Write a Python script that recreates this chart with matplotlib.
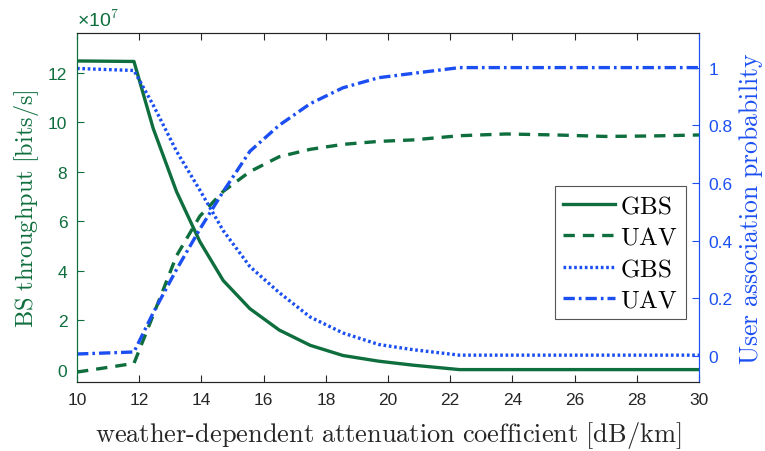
import matplotlib.pyplot as plt
import matplotlib as mpl

mpl.rcParams['mathtext.fontset'] = 'cm'
mpl.rcParams['font.family'] = ['Liberation Sans', 'DejaVu Sans']

# attenuation coefficient [dB/km]
x = [10, 11.83, 12.45, 13.2, 13.95, 14.7, 15.56, 16.5, 17.5, 18.55,
     19.7, 20.8, 22.3, 23.8, 25.4, 27.0, 28.5, 30]

# BS throughput, in units of 1e7 bits/s
thr_gbs = [12.47, 12.45, 9.74, 7.19, 5.17, 3.6, 2.46, 1.6, 0.98, 0.57,
           0.34, 0.18, 0.0, 0.0, 0.0, 0.0, 0.0, 0.0]
thr_uav = [-0.1, 0.25, 2.2, 4.6, 6.2, 7.2, 8.0, 8.6, 8.9, 9.1,
           9.22, 9.28, 9.45, 9.52, 9.48, 9.42, 9.44, 9.48]

# user association probability
p_gbs = [0.997, 0.99, 0.87, 0.71, 0.575, 0.435, 0.31, 0.22, 0.135, 0.08,
         0.04, 0.022, 0.003, 0.003, 0.003, 0.003, 0.003, 0.003]
p_uav = [0.007, 0.014, 0.15, 0.30, 0.44, 0.57, 0.71, 0.80, 0.875, 0.93,
         0.965, 0.98, 1.0, 1.0, 1.0, 1.0, 1.0, 1.0]

green = '#0e6e3d'
blue = '#1c4ff2'
dark = '#262626'

fig = plt.figure(figsize=(7.65, 4.52), dpi=100)
ax = fig.add_axes([0.1007, 0.1527, 0.8130, 0.7721])
ax2 = ax.twinx()

l1, = ax.plot(x, thr_gbs, color=green, lw=2.4, ls='-')
l2, = ax.plot(x, thr_uav, color=green, lw=2.4, ls=(0, (3.4, 2.4)))
l3, = ax2.plot(x, p_gbs, color=blue, lw=2.4, ls=(0, (0.8, 0.8)))
l4, = ax2.plot(x, p_uav, color=blue, lw=2.4, ls=(0, (3.4, 1.2, 0.8, 1.2)))

ax.set_xlim(10, 30)
ax.set_ylim(-0.5, 13.6)
ax2.set_ylim(-0.09, 1.12)
ax.set_xticks(range(10, 31, 2))
ax.set_yticks(range(0, 13, 2))
ax2.set_yticks([0, 0.2, 0.4, 0.6, 0.8, 1])
ax2.set_yticklabels(['0', '0.2', '0.4', '0.6', '0.8', '1'])

ax.tick_params(axis='x', direction='in', top=True, colors=dark, labelsize=12.5,
               length=5, width=0.8, pad=7)
ax.tick_params(axis='y', direction='in', colors=green, labelsize=12.5,
               length=5, width=0.8, pad=7)
ax2.tick_params(axis='y', direction='in', colors=blue, labelsize=12.5,
                length=5, width=0.8, pad=7)

for a in (ax, ax2):
    a.spines['top'].set_color(dark)
    a.spines['bottom'].set_color(dark)
    a.spines['left'].set_color(green)
    a.spines['right'].set_color(blue)

ax.set_xlabel(r'$\mathrm{weather\text{-}dependent\ attenuation\ coefficient\ [dB/km]}$',
              fontsize=19, color=dark, labelpad=9)
ax.set_ylabel(r'$\mathrm{BS\ throughput\ [bits/s]}$', fontsize=17.5, color=green,
              labelpad=5)
ax2.set_ylabel(r'$\mathrm{User\ association\ probability}$', fontsize=18.5, color=blue,
               labelpad=3)

ax.text(0.0, 1.01, '×10$^{7}$', transform=ax.transAxes, color=green,
        fontsize=14, ha='left', va='bottom')

leg = ax2.legend([l1, l2, l3, l4],
                 [r'$\mathrm{GBS}$', r'$\mathrm{UAV}$', r'$\mathrm{GBS}$', r'$\mathrm{UAV}$'],
                 loc='upper left', bbox_to_anchor=(0.769, 0.562), fontsize=18,
                 handlelength=2.1, handletextpad=0.2, labelspacing=0.3,
                 borderpad=0.3, borderaxespad=0, fancybox=False, framealpha=1,
                 edgecolor='#555555')
leg.get_frame().set_linewidth(0.8)

fig.savefig('out.png', dpi=100)
